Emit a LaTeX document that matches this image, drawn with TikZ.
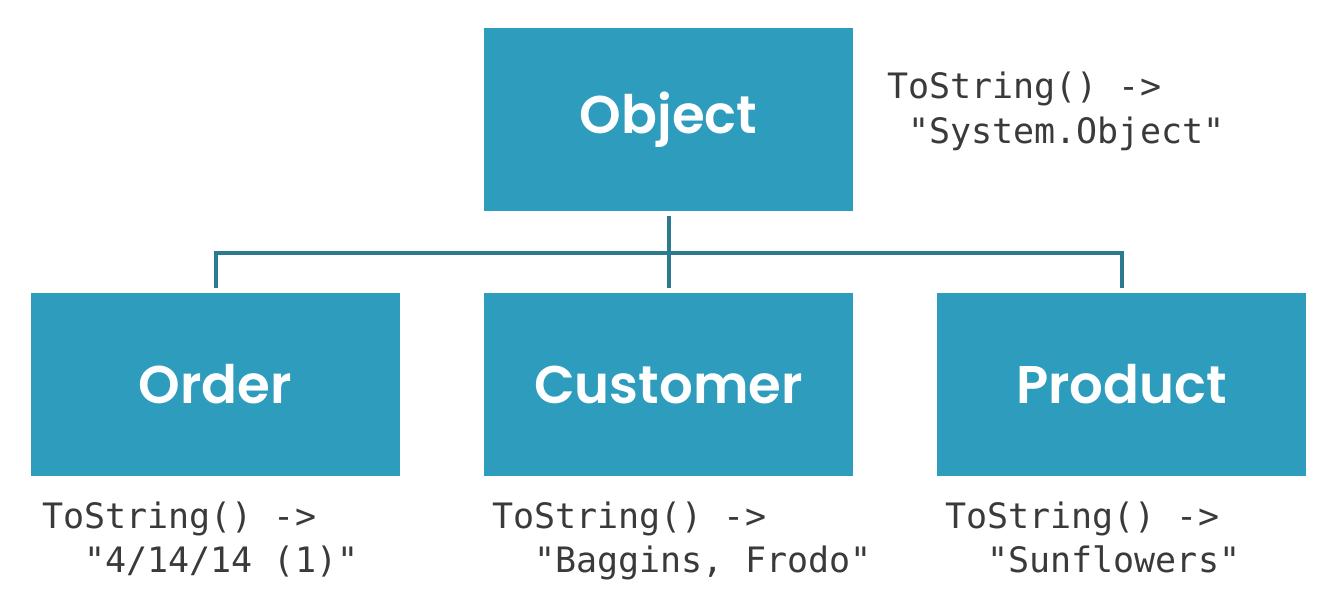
\documentclass[tikz,border=0pt]{standalone}
\usepackage{fontspec}
\usepackage{tikz}
\usepackage{xcolor}
\newfontfamily\boxfont{Poppins SemiBold}
\setmonofont{DejaVu Sans Mono}
\definecolor{boxblue}{RGB}{45,156,189}
\definecolor{linkteal}{RGB}{44,122,143}
\definecolor{codegray}{RGB}{58,58,58}
\tikzset{
  box/.style={fill=boxblue, minimum width=369pt, minimum height=183pt, inner sep=0pt,
    text=white, font=\boxfont\fontsize{53}{60}\selectfont},
  tostr/.style={anchor=base west, inner sep=0pt, align=left, text=codegray,
    font=\ttfamily\fontsize{35}{44}\selectfont},
  link/.style={draw=linkteal, line width=4pt}
}
\begin{document}
\begin{tikzpicture}[x=1pt, y=-1pt]
				\useasboundingbox (0, 0) rectangle (1341, 599);
				\node[box] (obj) at (668.5, 119.5) {Object};
				\node[box] (ord) at (215.5, 384.5) {Order};
				\node[box] (cust) at (668.5, 384.5) {Customer};
				\node[box] (prod) at (1121.5, 384.5) {Product};
				% Draw the tree links from Object down to the three classes
				\coordinate (bus) at (668, 253);
				\draw[link] ([yshift=-5pt]obj.south) -- ([yshift=5pt]cust.north);
				\draw[link] ([yshift=5pt]ord.north) |- (bus) -| ([yshift=5pt]prod.north);
				\node[tostr] (objstr) at (887, 143) {ToString() ->\\~"System.Object"};
				\node[tostr] (ordstr) at (42, 572) {ToString() ->\\~~"4/14/14 (1)"};
				\node[tostr] (custstr) at (492, 572) {ToString() ->\\~~"Baggins, Frodo"};
				\node[tostr] (prodstr) at (945, 572) {ToString() ->\\~~"Sunflowers"};
			\end{tikzpicture}
\end{document}
